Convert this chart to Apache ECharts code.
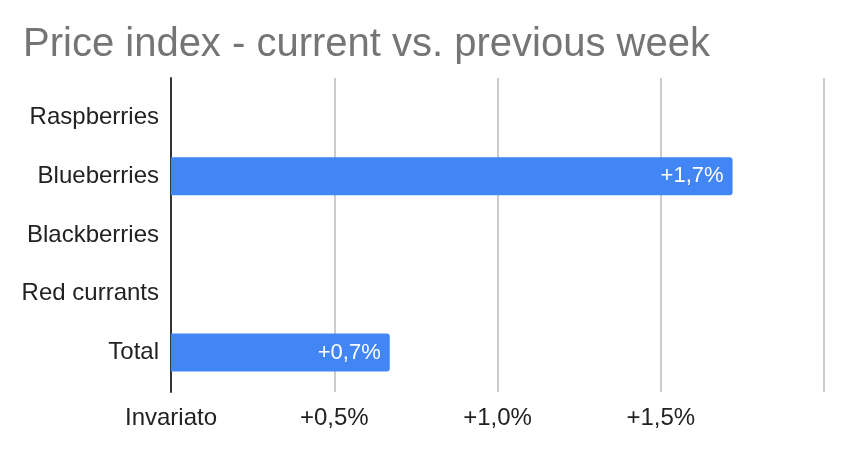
<!DOCTYPE html>
<html>
<head>
<meta charset="utf-8">
<script src="https://cdn.jsdelivr.net/npm/echarts@6/dist/echarts.min.js"></script>
<style>html,body{margin:0;padding:0;background:#fff;}#c{width:848px;height:452px;}</style>
</head>
<body>
<div id="c"></div>
<script>
const titleText = 'Price index - current vs. previous week';
const categories = ['Raspberries', 'Blueberries', 'Blackberries', 'Red currants', 'Total'];
const values = [0, 1.72, 0, 0, 0.67];
const valueLabels = ['', '+1,7%', '', '', '+0,7%'];
const tickLabels = {0: 'Invariato', 0.5: '+0,5%', 1: '+1,0%', 1.5: '+1,5%', 2: ''};

const chart = echarts.init(document.getElementById('c'));
const font = 'Arial, "Liberation Sans", sans-serif';
chart.setOption({
  animation: false,
  title: {
    text: titleText, left: 18, top: 20,
    textStyle: {fontFamily: font, fontSize: 40, fontWeight: 'normal', color: '#757575'}
  },
  grid: [
    {left: 171, right: 24, top: 88, bottom: 70, containLabel: false},
    {left: 171, right: 24, top: 78, bottom: 60, containLabel: false}
  ],
  xAxis: [
    {gridIndex: 0, type: 'value', min: 0, max: 2, interval: 0.5, show: false},
    {gridIndex: 1, type: 'value', min: 0, max: 2, interval: 0.5,
     axisLine: {show: false}, axisTick: {show: false},
     splitLine: {show: true, lineStyle: {color: '#cccccc', width: 2}},
     axisLabel: {margin: 14, fontFamily: font, fontSize: 24, color: '#222',
       formatter: v => tickLabels[v] !== undefined ? tickLabels[v] : ''}}
  ],
  yAxis: [
    {gridIndex: 0, type: 'category', data: categories, inverse: true,
     axisLine: {show: false}, axisTick: {show: false}, splitLine: {show: false},
     axisLabel: {margin: 12, fontFamily: font, fontSize: 24, color: '#222'}},
    {gridIndex: 1, type: 'value', min: 0, max: 1,
     axisLine: {show: true, onZero: false, lineStyle: {color: '#333', width: 2}},
     axisTick: {show: false}, axisLabel: {show: false}, splitLine: {show: false}}
  ],
  series: [{
    type: 'bar', xAxisIndex: 0, yAxisIndex: 0,
    data: values, barWidth: 38,
    itemStyle: {color: '#4285f4', borderRadius: [0, 3, 3, 0]},
    label: {show: true, position: 'insideRight', distance: 9,
      fontFamily: font, fontSize: 22, color: '#fff',
      formatter: p => valueLabels[p.dataIndex]}
  }]
});
</script>
</body>
</html>
